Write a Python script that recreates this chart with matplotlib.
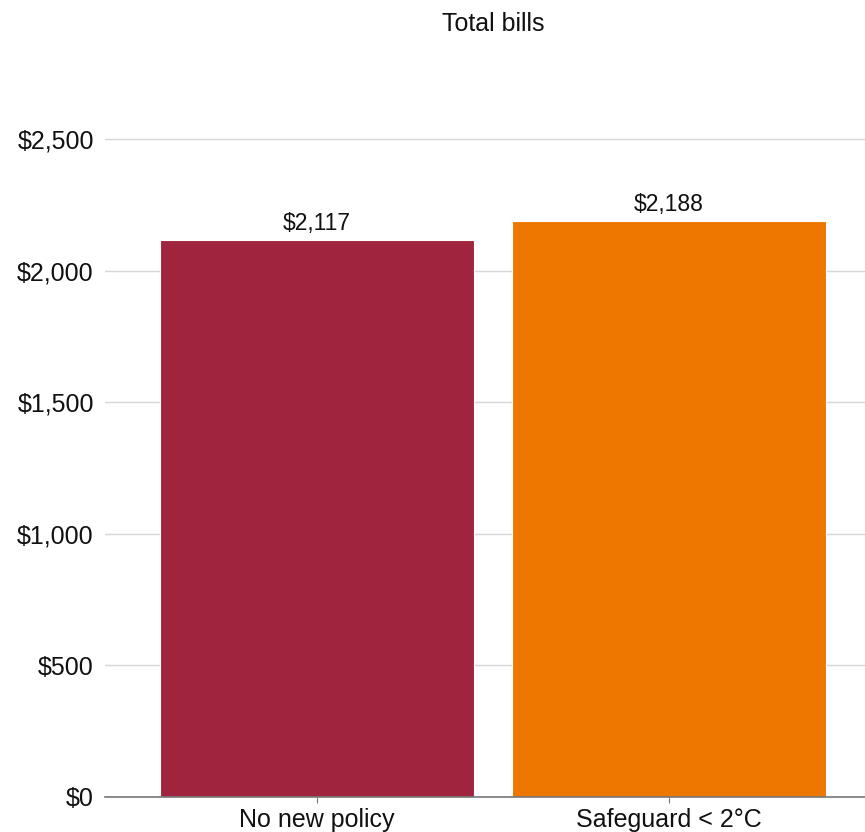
import matplotlib
matplotlib.use("Agg")
import matplotlib.pyplot as plt

plt.rcParams['font.family'] = ['Liberation Sans', 'DejaVu Sans']

categories = ["No new policy", "Safeguard < 2°C"]
values = [2117, 2188]
colors = ["#A0243E", "#EE7700"]
yticks = [0, 500, 1000, 1500, 2000, 2500]
ytick_labels = ["$0", "$500", "$1,000", "$1,500", "$2,000", "$2,500"]
title = "Total bills"

W, H = 865, 832
fig = plt.figure(figsize=(W/100, H/100), dpi=100)
ax_left, ax_right = 105, 865
ax_bottom, ax_top = 797, 100
ax = fig.add_axes([ax_left/W, (H-ax_bottom)/H, (ax_right-ax_left)/W, (ax_bottom-ax_top)/H])

px_per_unit = (797-139)/2500
ax.set_ylim(0, (ax_bottom-ax_top)/px_per_unit)
ax.set_xlim(-0.602, 1.557)

x = list(range(len(categories)))
bars = ax.bar(x, values, width=0.893, color=colors, edgecolor='white', linewidth=0.8, zorder=2)
for xi, v in zip(x, values):
    ax.text(xi, v + 20, f"${v:,}", ha='center', va='bottom', fontsize=16.5, color='#111111')

ax.set_yticks(yticks)
ax.set_yticklabels(ytick_labels, fontsize=18)
ax.set_xticks(x)
ax.set_xticklabels(categories, fontsize=18)
ax.grid(axis='y', color='#d6d6d6', linewidth=1, zorder=0)
ax.set_axisbelow(True)
for s in ['top', 'right', 'left']:
    ax.spines[s].set_visible(False)
ax.spines['bottom'].set_color('#777777')
ax.spines['bottom'].set_linewidth(1.2)
ax.tick_params(axis='y', length=0, pad=8, colors='#111111')
ax.tick_params(axis='x', length=4, color='#777777', pad=4, colors='#111111')
ax.tick_params(axis='x', labelcolor='#111111')

fig.text(493/W, 1-24/H, title, ha='center', va='center', fontsize=18, color='#111111')

fig.savefig("out.png", dpi=100)
